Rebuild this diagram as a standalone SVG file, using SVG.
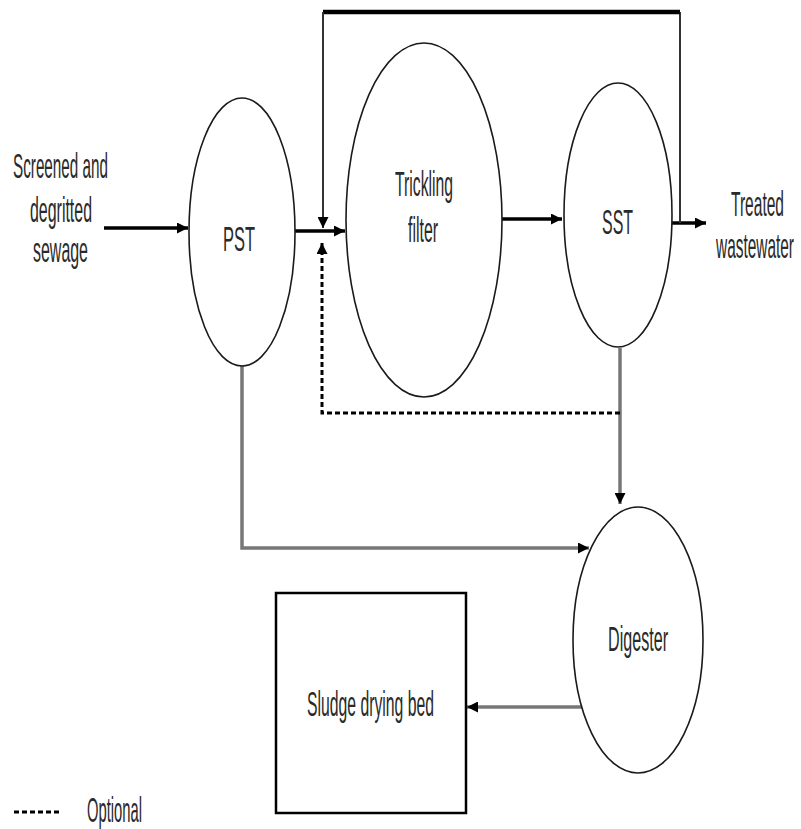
<svg xmlns="http://www.w3.org/2000/svg" width="801" height="829" viewBox="0 0 801 829">
<style>
.node{fill:#fff;stroke:#1a1a1a;stroke-width:1.6}
.lbl{font-family:"Liberation Sans",Arial,sans-serif;font-size:35px;fill:#2a2a2a}
.k{fill:none;stroke:#000;stroke-width:3.5}
.g{fill:none;stroke:#777;stroke-width:3.5}
.thin{fill:none;stroke:#333;stroke-width:2}
.dash{fill:none;stroke:#000;stroke-width:3;stroke-dasharray:5 3}
</style>
<defs>
<marker id="ah" viewBox="0 0 10 10" refX="10" refY="5" markerWidth="13" markerHeight="11" markerUnits="userSpaceOnUse" orient="auto">
<path d="M0,0 L10,5 L0,10 Z" fill="#000"/>
</marker>
</defs>
<rect width="801" height="829" fill="#fff"/>
<g id="connectors">
<line class="k" x1="104" y1="228" x2="188" y2="228" marker-end="url(#ah)"/>
<line class="k" x1="295" y1="231" x2="345" y2="231" marker-end="url(#ah)"/>
<line class="k" x1="502" y1="219" x2="562" y2="219" marker-end="url(#ah)"/>
<line class="k" x1="672" y1="223" x2="706" y2="223" marker-end="url(#ah)"/>
<polyline class="thin" points="680,223 680,12"/>
<line x1="323" y1="12" x2="680" y2="12" stroke="#000" stroke-width="4.5"/>
<line class="thin" x1="323" y1="12" x2="323" y2="228" marker-end="url(#ah)"/>
<line class="g" x1="620" y1="348" x2="620" y2="504" stroke-width="2.5" marker-end="url(#ah)"/>
<polyline class="dash" points="620,413 322,413 322,243" marker-end="url(#ah)"/>
<polyline class="g" points="242,366 242,548 589,548" stroke-width="4" marker-end="url(#ah)"/>
<line class="g" x1="582" y1="707" x2="467" y2="707" stroke-width="4" marker-end="url(#ah)"/>
</g>
<g id="inlet">
<text class="lbl" x="13" y="178" textLength="95" lengthAdjust="spacingAndGlyphs">Screened and</text>
<text class="lbl" x="30" y="222" textLength="62" lengthAdjust="spacingAndGlyphs">degritted</text>
<text class="lbl" x="33" y="262" textLength="55" lengthAdjust="spacingAndGlyphs">sewage</text>
</g>
<g id="pst">
<ellipse class="node" cx="242" cy="232" rx="53" ry="134"/>
<text class="lbl" x="223" y="251" textLength="32" lengthAdjust="spacingAndGlyphs">PST</text>
</g>
<g id="trickling-filter">
<ellipse class="node" cx="424" cy="220" rx="78" ry="177"/>
<text class="lbl" x="395" y="196" textLength="58" lengthAdjust="spacingAndGlyphs">Trickling</text>
<text class="lbl" x="408" y="242" textLength="30" lengthAdjust="spacingAndGlyphs">filter</text>
</g>
<g id="sst">
<ellipse class="node" cx="618" cy="215" rx="54" ry="132"/>
<text class="lbl" x="602" y="234" textLength="31" lengthAdjust="spacingAndGlyphs">SST</text>
</g>
<g id="treated">
<text class="lbl" x="784" y="216" font-size="33" text-anchor="end" textLength="53" lengthAdjust="spacingAndGlyphs">Treated</text>
<text class="lbl" x="794" y="258" font-size="33" text-anchor="end" textLength="78" lengthAdjust="spacingAndGlyphs">wastewater</text>
</g>
<g id="digester">
<ellipse class="node" cx="638" cy="640" rx="65" ry="133"/>
<text class="lbl" x="608" y="651" textLength="60" lengthAdjust="spacingAndGlyphs">Digester</text>
</g>
<g id="sludge-drying-bed">
<rect x="276" y="593" width="190" height="220" fill="#fff" stroke="#000" stroke-width="2.5"/>
<text class="lbl" x="307" y="716" textLength="127" lengthAdjust="spacingAndGlyphs">Sludge drying bed</text>
</g>
<g id="legend">
<line class="dash" x1="14" y1="812" x2="62" y2="812"/>
<text class="lbl" x="87" y="822" font-size="32" textLength="55" lengthAdjust="spacingAndGlyphs">Optional</text>
</g>
</svg>
